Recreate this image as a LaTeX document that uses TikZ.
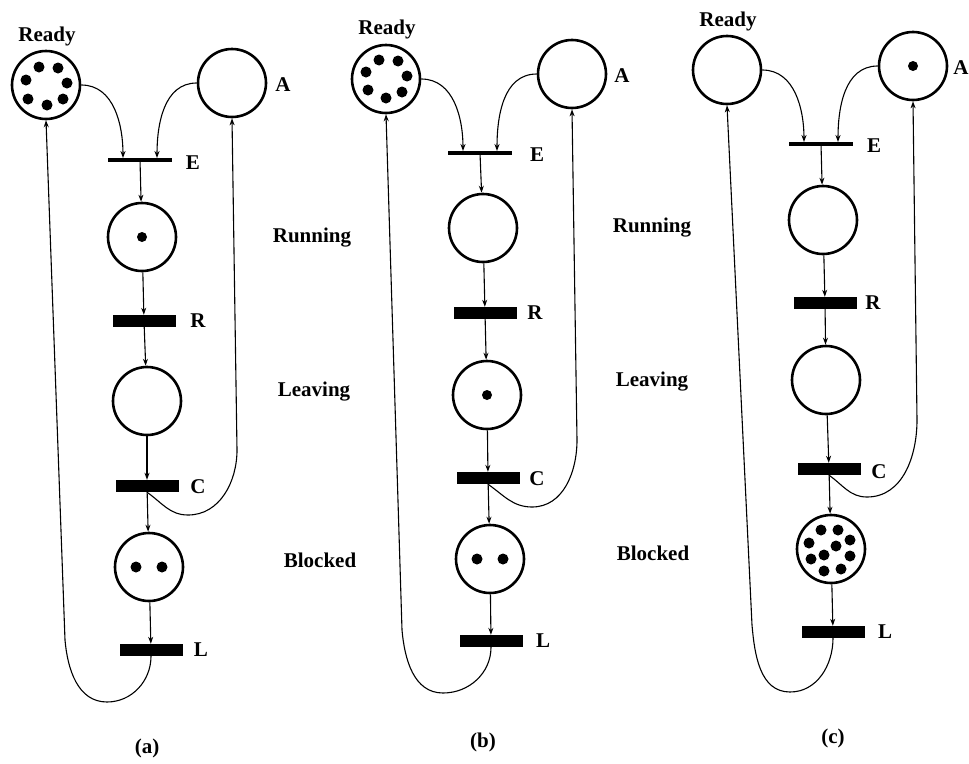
\documentclass[tikz,border=0pt]{standalone}
\usepackage{fontspec}
\setmainfont{Liberation Serif}
\usetikzlibrary{arrows.meta}
\begin{document}
\begin{tikzpicture}[x=1pt,y=1pt,
  place/.style={circle,draw,line width=2.6pt,minimum size=68pt,inner sep=0pt},
  bar/.style={rectangle,fill,minimum width=63pt,minimum height=12pt,inner sep=0pt},
  ebar/.style={rectangle,fill,minimum width=64pt,minimum height=3.5pt,inner sep=0pt},
  lbl/.style={font=\fontsize{21}{24}\selectfont\bfseries,inner sep=0pt},
  arc/.style={line width=1.1pt,-{Stealth[length=7pt,width=5pt]}}]
\useasboundingbox (0,0) rectangle (969,-763);

% ================= panel (a) =================
\node[place] (ReadyA) at (46,-85) {};
\node[lbl] (ReadyLA) at (47,-36) {Ready};
\node[place] (AA) at (232,-83) {};
\node[lbl] (ALA) at (283,-85) {A};
\node[ebar] (EA) at (140,-160) {};
\node[lbl] (ELA) at (193,-163) {E};
\node[place] (RunA) at (142,-237) {};
\node[lbl] (RunLA) at (312,-238) {Running};
\node[bar] (RA) at (144,-321) {};
\node[lbl] (RLA) at (198,-321) {R};
\node[place] (LvA) at (147,-401) {};
\node[lbl] (LvLA) at (314,-392) {Leaving};
\node[bar] (CA) at (147,-486) {};
\node[lbl] (CLA) at (198,-487) {C};
\node[place] (BlA) at (149,-567) {};
\node[lbl] (BlLA) at (320,-560) {Blocked};
\node[bar] (LA) at (151,-650) {};
\node[lbl] (LLA) at (201,-650) {L};
\node[lbl] (capA) at (147,-748) {(a)};

\foreach \dx/\dy in {-7/18,12/17,-20/5,21/2,-18/-14,1/-20,17/-14}
  \fill ([shift={(\dx,\dy)}]ReadyA.center) circle[radius=5.5pt];
\fill (RunA.center) circle[radius=5pt];
\foreach \dx in {-13,13} \fill ([shift={(\dx,0)}]BlA.center) circle[radius=5.5pt];

\draw[arc] (ReadyA.east) to[out=0,in=90] ([xshift=-17pt]EA.north);
\draw[arc] (AA.west) to[out=180,in=90] ([xshift=17pt]EA.north);
\draw[arc] (EA) -- (RunA);
\draw[arc] (RunA) -- (RA);
\draw[arc] (RA) -- (LvA);
\draw[arc] (LvA) -- (CA);
\draw[arc] (CA) -- (BlA);
\draw[arc] (BlA) -- (LA);
\coordinate (caA1) at (188,-515);
\coordinate (caA2) at (237,-450);
\draw[arc] (CA.south) to[out=-35,in=180] (caA1) to[out=0,in=-90] (caA2) -- (AA.south);
\coordinate (lrA1) at (107,-702);
\coordinate (lrA2) at (65,-640);
\draw[arc] (LA.south) to[out=-90,in=0] (lrA1) to[out=180,in=-85] (lrA2) -- (ReadyA.south);

% ================= panel (b) =================
\node[place] (ReadyB) at (386,-79) {};
\node[lbl] (ReadyLB) at (387,-29) {Ready};
\node[place] (AB) at (572,-74) {};
\node[lbl] (ALB) at (622,-76) {A};
\node[ebar] (EB) at (480,-153) {};
\node[lbl] (ELB) at (537,-155) {E};
\node[place] (RunB) at (483,-228) {};
\node[lbl] (RunLB) at (652,-228) {Running};
\node[bar] (RB) at (485,-313) {};
\node[lbl] (RLB) at (535,-313) {R};
\node[place] (LvB) at (487,-395) {};
\node[lbl] (LvLB) at (652,-382) {Leaving};
\node[bar] (CB) at (488,-478) {};
\node[lbl] (CLB) at (537,-479) {C};
\node[place] (BlB) at (490,-559) {};
\node[lbl] (BlLB) at (653,-553) {Blocked};
\node[bar] (LB) at (491,-641) {};
\node[lbl] (LLB) at (543,-641) {L};
\node[lbl] (capB) at (483,-742) {(b)};

\foreach \dx/\dy in {-7/19,12/18,-20/7,21/3,-18/-11,0/-19,16/-13}
  \fill ([shift={(\dx,\dy)}]ReadyB.center) circle[radius=5.5pt];
\fill (LvB.center) circle[radius=5pt];
\foreach \dx in {-13,13} \fill ([shift={(\dx,0)}]BlB.center) circle[radius=5.5pt];

\draw[arc] (ReadyB.east) to[out=0,in=90] ([xshift=-17pt]EB.north);
\draw[arc] (AB.west) to[out=180,in=90] ([xshift=17pt]EB.north);
\draw[arc] (EB) -- (RunB);
\draw[arc] (RunB) -- (RB);
\draw[arc] (RB) -- (LvB);
\draw[arc] (LvB) -- (CB);
\draw[arc] (CB) -- (BlB);
\draw[arc] (BlB) -- (LB);
\coordinate (caB1) at (532,-507);
\coordinate (caB2) at (577,-440);
\draw[arc] (CB.south) to[out=-35,in=180] (caB1) to[out=0,in=-90] (caB2) -- (AB.south);
\coordinate (lrB1) at (443,-693);
\coordinate (lrB2) at (402,-630);
\draw[arc] (LB.south) to[out=-90,in=0] (lrB1) to[out=180,in=-85] (lrB2) -- (ReadyB.south);

% ================= panel (c) =================
\node[place] (ReadyC) at (727,-70) {};
\node[lbl] (ReadyLC) at (728,-21) {Ready};
\node[place] (AC) at (913,-66) {};
\node[lbl] (ALC) at (961,-68) {A};
\node[ebar] (EC) at (821,-144) {};
\node[lbl] (ELC) at (874,-146) {E};
\node[place] (RunC) at (823,-220) {};
\node[bar] (RC) at (825,-303) {};
\node[lbl] (RLC) at (873,-303) {R};
\node[place] (LvC) at (826,-380) {};
\node[bar] (CC) at (829,-469) {};
\node[lbl] (CLC) at (879,-472) {C};
\node[place] (BlC) at (831,-549) {};
\node[bar] (LC) at (833,-632) {};
\node[lbl] (LLC) at (885,-632) {L};
\node[lbl] (capC) at (833,-738) {(c)};

\fill (AC.center) circle[radius=5pt];
\foreach \dx/\dy in {-10/19,7/19,-22/6,19/9,5/3,-7/-6,-20/-10,19/-7,-7/-22,10/-20}
  \fill ([shift={(\dx,\dy)}]BlC.center) circle[radius=5.5pt];

\draw[arc] (ReadyC.east) to[out=0,in=90] ([xshift=-17pt]EC.north);
\draw[arc] (AC.west) to[out=180,in=90] ([xshift=17pt]EC.north);
\draw[arc] (EC) -- (RunC);
\draw[arc] (RunC) -- (RC);
\draw[arc] (RC) -- (LvC);
\draw[arc] (LvC) -- (CC);
\draw[arc] (CC) -- (BlC);
\draw[arc] (BlC) -- (LC);
\coordinate (caC1) at (867,-497);
\coordinate (caC2) at (917,-420);
\draw[arc] (CC.south) to[out=-35,in=180] (caC1) to[out=0,in=-90] (caC2) -- (AC.south);
\coordinate (lrC1) at (790,-692);
\coordinate (lrC2) at (752,-625);
\draw[arc] (LC.south) to[out=-90,in=0] (lrC1) to[out=180,in=-85] (lrC2) -- (ReadyC.south);
\end{tikzpicture}
\end{document}
